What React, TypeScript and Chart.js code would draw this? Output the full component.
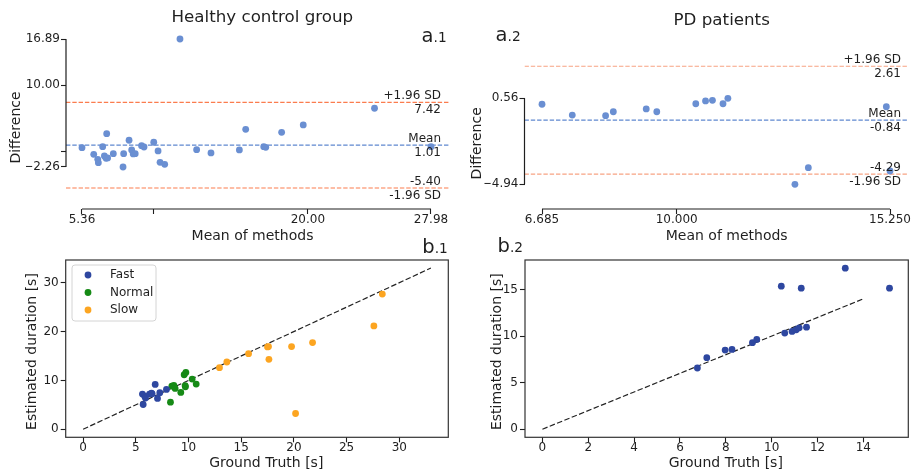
import React, { useEffect, useRef } from 'react';
import { Chart, registerables } from 'chart.js';

Chart.register(...registerables);

// ---------------- data ----------------
// a.1  Healthy control group (Bland-Altman)
const hcMeanOfMethods = [5.36, 6.12, 6.38, 6.42, 6.70, 6.96, 6.81, 6.92, 7.02, 7.39, 8.02, 8.06, 8.41, 8.58, 8.68, 8.81, 9.22, 9.38, 10.01, 10.29, 10.42, 10.72, 11.71, 12.79, 13.72, 15.56, 15.97, 17.14, 17.27, 18.30, 19.70, 24.32, 27.98];
const hcDifference = [0.63, -0.36, -1.11, -1.62, 0.78, 2.73, -0.61, -0.96, -0.91, -0.27, -2.26, -0.27, 1.74, 0.29, -0.31, -0.27, 0.93, 0.73, 1.44, 0.14, -1.56, -1.86, 16.89, 0.33, -0.16, 0.29, 3.38, 0.78, 0.69, 2.93, 4.03, 6.53, 0.78];
const hcBias = 1.01;
const hcUpperLoA = 7.42;
const hcLowerLoA = -5.40;
const hcXTicks = [5.36, 10, 20, 27.98];
const hcXTickLabels = ['5.36', '', '20.00', '27.98'];
const hcYTicks = [-2.26, 0, 10, 16.89];
const hcYTickLabels = ['\u22122.26', '', '10.00', '16.89'];

// a.2  PD patients (Bland-Altman)
const pdMeanOfMethods = [6.685, 7.43, 8.25, 8.44, 9.25, 9.51, 10.47, 10.71, 10.88, 11.14, 11.26, 12.91, 13.24, 15.16, 15.25];
const pdDifference = [0.18, -0.51, -0.55, -0.30, -0.12, -0.30, 0.21, 0.39, 0.43, 0.21, 0.56, -4.94, -3.88, 0.02, -4.09];
const pdBias = -0.84;
const pdUpperLoA = 2.61;
const pdLowerLoA = -4.29;
const pdXTicks = [6.685, 10, 15.25];
const pdXTickLabels = ['6.685', '10.000', '15.250'];
const pdYTicks = [-4.94, 0.56];
const pdYTickLabels = ['\u22124.94', '0.56'];

// b.1  Healthy control group: estimated vs ground truth
const fastTruth = [5.63, 5.70, 5.85, 5.92, 6.30, 6.49, 6.55, 6.84, 7.06, 7.28, 7.91];
const fastEstimate = [7.19, 5.07, 6.78, 6.40, 7.19, 7.40, 7.25, 9.18, 6.30, 7.47, 8.15];
const normalTruth = [8.29, 8.42, 8.61, 8.73, 9.27, 9.59, 9.75, 9.68, 9.71, 10.35, 10.73];
const normalEstimate = [5.55, 8.84, 8.97, 8.36, 7.53, 11.16, 11.64, 8.90, 8.70, 10.27, 9.25];
const slowTruth = [12.94, 13.64, 15.70, 17.50, 17.59, 17.63, 19.78, 20.16, 21.77, 27.59, 28.39];
const slowEstimate = [12.60, 13.77, 15.48, 16.85, 16.92, 14.32, 16.92, 3.22, 17.74, 21.16, 27.67];
const hcIdentity = [0, 33];
const b1XTicks = [0, 5, 10, 15, 20, 25, 30];
const b1YTicks = [0, 10, 20, 30];

// b.2  PD patients: estimated vs ground truth
const pdTruth = [6.76, 7.17, 7.97, 8.27, 9.16, 9.35, 10.42, 10.57, 10.89, 11.07, 11.20, 11.29, 11.52, 13.21, 15.14];
const pdEstimate = [6.57, 7.68, 8.50, 8.57, 9.29, 9.64, 15.36, 10.32, 10.50, 10.68, 10.89, 15.14, 10.96, 17.29, 15.14];
const pdIdentity = [0, 14];
const b2XTicks = [0, 2, 4, 6, 8, 10, 12, 14];
const b2YTicks = [0, 5, 10, 15];

// ---------------- styling ----------------
const W = 919;
const H = 474;
const FONT = "'DejaVu Sans', 'Liberation Sans', sans-serif";
const INK = '#1f1f1f';
const BA_POINT = '#6a8fd2';
const BA_MEAN = '#5f88cf';
const FAST = '#2e47a0';
const NORMAL = '#168a16';
const SLOW = '#fca521';
const YW = 40; // y scale width
const XH = 30; // x scale height

Chart.defaults.font.family = FONT;
Chart.defaults.color = INK;

function padFor(left: number, top: number, right: number, bottom: number) {
  return { left: left - YW, top, right: W - right, bottom: H - bottom - XH };
}

function axis(pos: 'bottom' | 'left', min: number, max: number, ticks: number[], labels: string[], pad: number) {
  return {
    type: 'linear',
    position: pos,
    min,
    max,
    afterBuildTicks: (s: any) => {
      s.ticks = ticks.map((v) => ({ value: v }));
    },
    afterFit: (s: any) => {
      if (pos === 'bottom') s.height = XH;
      else s.width = YW;
    },
    ticks: {
      autoSkip: false,
      maxRotation: 0,
      minRotation: 0,
      padding: pad,
      color: INK,
      font: { family: FONT, size: 12, lineHeight: 1 },
      callback: (_v: any, i: number) => labels[i],
    },
    grid: {
      display: true,
      drawOnChartArea: false,
      drawTicks: true,
      tickLength: 5,
      tickWidth: 1.1,
      tickColor: INK,
      color: INK,
    },
    border: { display: false },
  };
}

const textPlugin = {
  id: 'panelTexts',
  afterDraw(chart: any, _a: any, opts: any) {
    const ctx = chart.ctx;
    const y = chart.scales.y;
    for (const it of opts.items || []) {
      ctx.save();
      ctx.fillStyle = INK;
      ctx.textBaseline = 'alphabetic';
      const py = it.yValue !== undefined ? y.getPixelForValue(it.yValue) + it.dy : it.y;
      ctx.translate(it.x, py);
      if (it.rotate) ctx.rotate(-Math.PI / 2);
      if (it.parts) {
        ctx.textAlign = 'left';
        let cx = 0;
        for (const p of it.parts) {
          ctx.font = `${p.size}px ${FONT}`;
          ctx.fillText(p.text, cx, 0);
          cx += ctx.measureText(p.text).width;
        }
      } else {
        ctx.font = `${it.size}px ${FONT}`;
        ctx.textAlign = it.align || 'left';
        ctx.fillText(it.text, 0, 0);
      }
      ctx.restore();
    }
  },
};

const spinePlugin = {
  id: 'trimmedSpines',
  afterDraw(chart: any, _a: any, opts: any) {
    if (!opts || opts.xFrom === undefined) return;
    const { ctx, chartArea, scales } = chart;
    ctx.save();
    ctx.strokeStyle = INK;
    ctx.lineWidth = 1.2;
    ctx.beginPath();
    ctx.moveTo(chartArea.left, scales.y.getPixelForValue(opts.yFrom));
    ctx.lineTo(chartArea.left, scales.y.getPixelForValue(opts.yTo));
    ctx.moveTo(scales.x.getPixelForValue(opts.xFrom), chartArea.bottom);
    ctx.lineTo(scales.x.getPixelForValue(opts.xTo), chartArea.bottom);
    ctx.stroke();
    ctx.restore();
  },
};

const boxPlugin = {
  id: 'axesBox',
  afterDraw(chart: any, _a: any, opts: any) {
    if (!opts || !opts.show) return;
    const { ctx, chartArea } = chart;
    ctx.save();
    ctx.strokeStyle = '#333';
    ctx.lineWidth = 1.2;
    ctx.strokeRect(chartArea.left, chartArea.top, chartArea.right - chartArea.left, chartArea.bottom - chartArea.top);
    ctx.restore();
  },
};

const legendPlugin = {
  id: 'insetLegend',
  afterDraw(chart: any, _a: any, opts: any) {
    if (!opts || !opts.show) return;
    const { ctx, chartArea } = chart;
    const x0 = chartArea.left + opts.dx;
    const y0 = chartArea.top + opts.dy;
    ctx.save();
    ctx.beginPath();
    const r = 3;
    const w = opts.width;
    const h = opts.height;
    ctx.moveTo(x0 + r, y0);
    ctx.arcTo(x0 + w, y0, x0 + w, y0 + h, r);
    ctx.arcTo(x0 + w, y0 + h, x0, y0 + h, r);
    ctx.arcTo(x0, y0 + h, x0, y0, r);
    ctx.arcTo(x0, y0, x0 + w, y0, r);
    ctx.closePath();
    ctx.fillStyle = 'rgba(255,255,255,0.8)';
    ctx.fill();
    ctx.strokeStyle = '#d4d4d4';
    ctx.lineWidth = 1;
    ctx.stroke();
    const sets = chart.data.datasets.filter((d: any) => d.label);
    sets.forEach((d: any, i: number) => {
      const cy = y0 + opts.firstRow + i * opts.rowGap;
      ctx.beginPath();
      ctx.fillStyle = d.backgroundColor;
      ctx.arc(x0 + opts.markerX, cy, 3.4, 0, Math.PI * 2);
      ctx.fill();
      ctx.fillStyle = INK;
      ctx.font = `12px ${FONT}`;
      ctx.textAlign = 'left';
      ctx.textBaseline = 'middle';
      ctx.fillText(d.label, x0 + opts.textX, cy);
    });
    ctx.restore();
  },
};

const plugins = [textPlugin, spinePlugin, boxPlugin, legendPlugin];

function pts(xs: number[], ys: number[]) {
  return xs.map((x, i) => ({ x, y: ys[i] }));
}

function hline(xMin: number, xMax: number, v: number, color: string) {
  return {
    data: [{ x: xMin, y: v }, { x: xMax, y: v }],
    showLine: true,
    borderColor: color,
    borderWidth: 1.2,
    borderDash: [4.4, 1.9],
    pointRadius: 0,
    fill: false,
  };
}

function baseOptions(padding: any, scales: any, pluginOpts: any) {
  return {
    responsive: false,
    maintainAspectRatio: false,
    animation: false,
    devicePixelRatio: 1,
    events: [],
    layout: { padding },
    plugins: {
      legend: { display: false },
      tooltip: { enabled: false },
      ...pluginOpts,
    },
    scales,
  };
}

function blandAltman(p: any) {
  const lowerText = p.lower.toFixed(2);
  const meanText = p.bias.toFixed(2);
  const upperText = p.upper.toFixed(2);
  return {
    type: 'scatter',
    data: {
      datasets: [
        {
          data: pts(p.means, p.diffs),
          backgroundColor: BA_POINT,
          borderWidth: 0,
          pointRadius: 3.4,
        },
        hline(p.xMin, p.xMax, p.bias, BA_MEAN),
        hline(p.xMin, p.xMax, p.upper, p.loaColor),
        hline(p.xMin, p.xMax, p.lower, p.loaColor),
      ],
    },
    options: baseOptions(
      p.padding,
      {
        x: axis('bottom', p.xMin, p.xMax, p.xTicks, p.xLabels, 0),
        y: axis('left', p.yMin, p.yMax, p.yTicks, p.yLabels, 1),
      },
      {
        trimmedSpines: {
          xFrom: p.xTicks[0],
          xTo: p.xTicks[p.xTicks.length - 1],
          yFrom: p.yTicks[0],
          yTo: p.yTicks[p.yTicks.length - 1],
        },
        panelTexts: {
          items: [
            ...p.texts,
            { text: '+1.96 SD', x: p.annX, yValue: p.upper, dy: -2.8, size: 12, align: 'right' },
            { text: upperText, x: p.annX, yValue: p.upper, dy: 10.6, size: 12, align: 'right' },
            { text: 'Mean', x: p.annX, yValue: p.bias, dy: -3.2, size: 12, align: 'right' },
            { text: meanText, x: p.annX, yValue: p.bias, dy: 11, size: 12, align: 'right' },
            { text: lowerText, x: p.annX, yValue: p.lower, dy: -3, size: 12, align: 'right' },
            { text: '-1.96 SD', x: p.annX, yValue: p.lower, dy: 10.6, size: 12, align: 'right' },
          ],
        },
      }
    ),
  };
}

function truthVsEstimate(p: any) {
  return {
    type: 'scatter',
    data: {
      datasets: [
        ...p.groups.map((g: any) => ({
          label: g.label,
          data: pts(g.xs, g.ys),
          backgroundColor: g.color,
          borderWidth: 0,
          pointRadius: 3.4,
        })),
        {
          data: [{ x: p.identity[0], y: p.identity[0] }, { x: p.identity[1], y: p.identity[1] }],
          showLine: true,
          borderColor: '#222',
          borderWidth: 1.2,
          borderDash: [5.5, 2.4],
          pointRadius: 0,
          fill: false,
        },
      ],
    },
    options: baseOptions(
      p.padding,
      {
        x: axis('bottom', p.xMin, p.xMax, p.xTicks, p.xTicks.map(String), 0),
        y: axis('left', p.yMin, p.yMax, p.yTicks, p.yTicks.map(String), 2),
      },
      {
        axesBox: { show: true },
        insetLegend: p.legend,
        panelTexts: { items: p.texts },
      }
    ),
  };
}

function configs() {
  const a1 = blandAltman({
    means: hcMeanOfMethods,
    diffs: hcDifference,
    bias: hcBias,
    upper: hcUpperLoA,
    lower: hcLowerLoA,
    xMin: 4.323,
    xMax: 29.147,
    yMin: -8.544,
    yMax: 18.087,
    xTicks: hcXTicks,
    xLabels: hcXTickLabels,
    yTicks: hcYTicks,
    yLabels: hcYTickLabels,
    loaColor: '#fb7c4e',
    padding: padFor(66, 31, 449, 209),
    annX: 441,
    texts: [
      { text: 'Healthy control group', x: 262.3, y: 22.4, size: 16.7, align: 'center' },
      { parts: [{ text: 'a', size: 19.5 }, { text: '.1', size: 13.7 }], x: 421.6, y: 42.3 },
      { text: 'Mean of methods', x: 252.5, y: 240.2, size: 14, align: 'center' },
      { text: 'Difference', x: 20, y: 127.5, size: 14, align: 'center', rotate: true },
    ],
  });
  const a2 = blandAltman({
    means: pdMeanOfMethods,
    diffs: pdDifference,
    bias: pdBias,
    upper: pdUpperLoA,
    lower: pdLowerLoA,
    xMin: 6.254,
    xMax: 15.693,
    yMin: -6.52,
    yMax: 4.864,
    xTicks: pdXTicks,
    xLabels: pdXTickLabels,
    yTicks: pdYTicks,
    yLabels: pdYTickLabels,
    loaColor: '#f8a383',
    padding: padFor(524.5, 31, 908, 209),
    annX: 901,
    texts: [
      { text: 'PD patients', x: 721.7, y: 25.3, size: 16.7, align: 'center' },
      { parts: [{ text: 'a', size: 19.5 }, { text: '.2', size: 13.7 }], x: 495.6, y: 40.7 },
      { text: 'Mean of methods', x: 726.7, y: 240.2, size: 14, align: 'center' },
      { text: 'Difference', x: 480.7, y: 143.3, size: 14, align: 'center', rotate: true },
    ],
  });
  const b1 = truthVsEstimate({
    groups: [
      { label: 'Fast', xs: fastTruth, ys: fastEstimate, color: FAST },
      { label: 'Normal', xs: normalTruth, ys: normalEstimate, color: NORMAL },
      { label: 'Slow', xs: slowTruth, ys: slowEstimate, color: SLOW },
    ],
    identity: hcIdentity,
    xMin: -1.65,
    xMax: 34.65,
    yMin: -1.65,
    yMax: 34.65,
    xTicks: b1XTicks,
    yTicks: b1YTicks,
    padding: padFor(65.7, 260, 448.3, 437.3),
    legend: { show: true, dx: 6.3, dy: 5, width: 84, height: 56, markerX: 16, textX: 38, firstRow: 10, rowGap: 17.5 },
    texts: [
      { parts: [{ text: 'b', size: 19.5 }, { text: '.1', size: 13.7 }], x: 422.3, y: 252.7 },
      { text: 'Ground Truth [s]', x: 266.3, y: 467, size: 14, align: 'center' },
      { text: 'Estimated duration [s]', x: 35.6, y: 351.5, size: 14, align: 'center', rotate: true },
    ],
  });
  const b2 = truthVsEstimate({
    groups: [{ label: '', xs: pdTruth, ys: pdEstimate, color: FAST }],
    identity: pdIdentity,
    xMin: -0.76,
    xMax: 15.96,
    yMin: -0.87,
    yMax: 18.17,
    xTicks: b2XTicks,
    yTicks: b2YTicks,
    padding: padFor(525, 260, 908.3, 437.3),
    legend: { show: false },
    texts: [
      { parts: [{ text: 'b', size: 19.5 }, { text: '.2', size: 13.7 }], x: 497.6, y: 252.3 },
      { text: 'Ground Truth [s]', x: 725.8, y: 467, size: 14, align: 'center' },
      { text: 'Estimated duration [s]', x: 500.6, y: 351.7, size: 14, align: 'center', rotate: true },
    ],
  });
  return [a1, a2, b1, b2];
}

export default function App() {
  const r0 = useRef<HTMLCanvasElement>(null);
  const r1 = useRef<HTMLCanvasElement>(null);
  const r2 = useRef<HTMLCanvasElement>(null);
  const r3 = useRef<HTMLCanvasElement>(null);
  const refs = [r0, r1, r2, r3];

  useEffect(() => {
    const cfgs = configs();
    const charts = cfgs.map((c, i) => new Chart(refs[i].current as HTMLCanvasElement, { ...(c as any), plugins }));
    return () => charts.forEach((c) => c.destroy());
  }, []);

  return (
    <div style={{ position: 'fixed', left: 0, top: 0, width: W, height: H, background: '#fff', overflow: 'hidden' }}>
      {refs.map((r, i) => (
        <canvas
          key={i}
          ref={r}
          width={W}
          height={H}
          style={{ position: 'absolute', left: 0, top: 0, width: W, height: H }}
        />
      ))}
    </div>
  );
}
